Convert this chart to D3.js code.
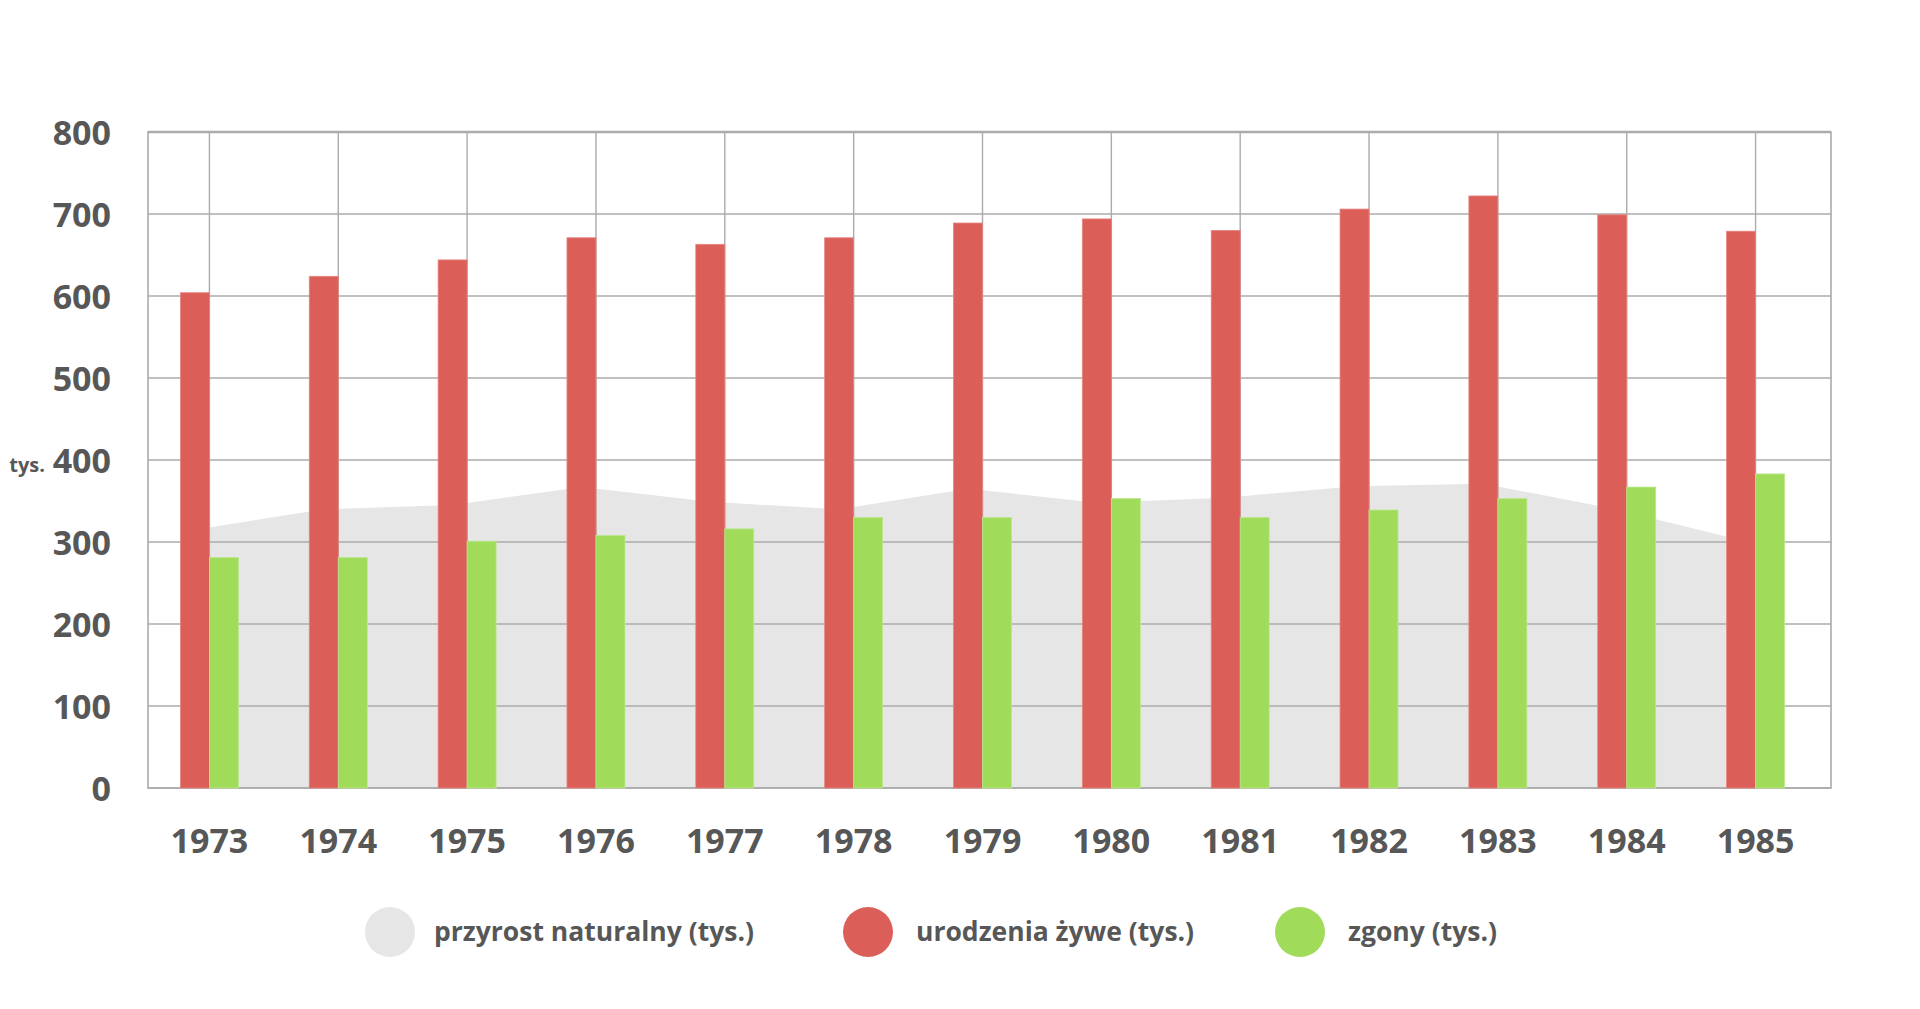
<!DOCTYPE html>
<html>
<head>
<meta charset="utf-8">
<script src="https://cdn.jsdelivr.net/npm/d3@7"></script>
<style>
  html, body { margin: 0; padding: 0; background: #ffffff; }
  svg { display: block; }
  text { font-family: "Open Sans", "Noto Sans", sans-serif; font-weight: 700; fill: #575757; }
</style>
</head>
<body>
<svg id="chart" width="1920" height="1009"></svg>
<script>
// ---- data ----
const years = ["1973","1974","1975","1976","1977","1978","1979","1980","1981","1982","1983","1984","1985"];
const births = [604, 624, 644, 671, 663, 671, 689, 694, 680, 706, 722, 699, 679];          // urodzenia żywe (tys.)
const deaths = [281, 281, 301, 308, 316, 330, 330, 353, 330, 339, 353, 367, 383];          // zgony (tys.)
const naturalIncrease = [315, 340, 345, 367, 349, 340, 365, 348, 354, 368, 371, 341, 302]; // przyrost naturalny (tys.)
const yTicks = [0, 100, 200, 300, 400, 500, 600, 700, 800];
const seriesNames = ["przyrost naturalny (tys.)", "urodzenia żywe (tys.)", "zgony (tys.)"];
const unitLabel = "tys.";

// ---- styles / layout ----
const colors = { area: "#e6e6e6", births: "#db5e58", deaths: "#a0db5a", grid: "#ababab" };
const frame = { left: 148, right: 1831, top: 132, bottom: 788 };

const svg = d3.select("#chart");

const x = d3.scaleBand().domain(years).range([145, 1820]).paddingInner(0).paddingOuter(0);
const y = d3.scaleLinear().domain([0, 800]).range([frame.bottom, frame.top]);
const bw = x.bandwidth();
const barW = bw * 0.225;
const center = d => x(d) + bw / 2;

// area (natural increase) - vertices at the births bar centres
const area = d3.area()
  .x((d, i) => center(years[i]) - barW / 2)
  .y0(y(0))
  .y1(d => y(d));
svg.append("path")
  .datum(naturalIncrease)
  .attr("d", area)
  .attr("fill", colors.area);

// horizontal grid lines
svg.append("g").selectAll("line")
  .data(yTicks)
  .join("line")
  .attr("x1", frame.left).attr("x2", frame.right)
  .attr("y1", d => y(d)).attr("y2", d => y(d))
  .attr("stroke", colors.grid)
  .attr("stroke-width", 1.4);

// vertical grid lines
svg.append("g").selectAll("line")
  .data(years)
  .join("line")
  .attr("x1", d => center(d)).attr("x2", d => center(d))
  .attr("y1", frame.top).attr("y2", frame.bottom)
  .attr("stroke", colors.grid)
  .attr("stroke-width", 1.4);

// frame
svg.append("rect")
  .attr("x", frame.left).attr("y", frame.top)
  .attr("width", frame.right - frame.left)
  .attr("height", frame.bottom - frame.top)
  .attr("fill", "none")
  .attr("stroke", colors.grid)
  .attr("stroke-width", 1.6);
svg.append("line")
  .attr("x1", frame.left).attr("x2", frame.right)
  .attr("y1", frame.top).attr("y2", frame.top)
  .attr("stroke", colors.grid).attr("stroke-width", 2.4);

// bars: births (left of centre) and deaths (right of centre)
svg.append("g").selectAll("rect")
  .data(births)
  .join("rect")
  .attr("x", (d, i) => center(years[i]) - barW)
  .attr("width", barW)
  .attr("y", d => y(d))
  .attr("height", d => y(0) - y(d))
  .attr("fill", colors.births)
  .attr("stroke", "#e8847f")
  .attr("stroke-width", 0.8);

svg.append("g").selectAll("rect")
  .data(deaths)
  .join("rect")
  .attr("x", (d, i) => center(years[i]))
  .attr("width", barW)
  .attr("y", d => y(d))
  .attr("height", d => y(0) - y(d))
  .attr("fill", colors.deaths)
  .attr("stroke", "#bde88f")
  .attr("stroke-width", 0.8);

// y axis labels
const yAxis = svg.append("g")
  .attr("transform", `translate(${frame.left},0)`)
  .call(d3.axisLeft(y).tickValues(yTicks).tickSize(0).tickPadding(37).tickFormat(d3.format("d")));
yAxis.select(".domain").remove();
yAxis.selectAll("text")
  .attr("font-size", 34)
  .attr("fill", "#575757")
  .attr("font-family", "'Open Sans', sans-serif")
  .attr("font-weight", 700)
  .attr("dy", "0.36em");

// unit label
svg.append("text")
  .attr("x", 45).attr("y", 472)
  .attr("text-anchor", "end")
  .attr("font-size", 20)
  .text(unitLabel);

// x axis labels
const xAxis = svg.append("g")
  .attr("transform", `translate(0,${frame.bottom})`)
  .call(d3.axisBottom(x).tickSize(0).tickPadding(41));
xAxis.select(".domain").remove();
xAxis.selectAll("text")
  .attr("font-size", 34)
  .attr("fill", "#575757")
  .attr("font-family", "'Open Sans', sans-serif")
  .attr("font-weight", 700);

// legend
const legendColors = [colors.area, colors.births, colors.deaths];
const legendX = [390, 868, 1300];
const legend = svg.append("g").selectAll("g")
  .data(seriesNames)
  .join("g")
  .attr("transform", (d, i) => `translate(${legendX[i]},932)`);
legend.append("circle")
  .attr("r", 25)
  .attr("fill", (d, i) => legendColors[i]);
legend.append("text")
  .attr("x", (d, i) => i === 0 ? 44 : 48)
  .attr("y", 9)
  .attr("font-size", 26.5)
  .text(d => d);
</script>
</body>
</html>
